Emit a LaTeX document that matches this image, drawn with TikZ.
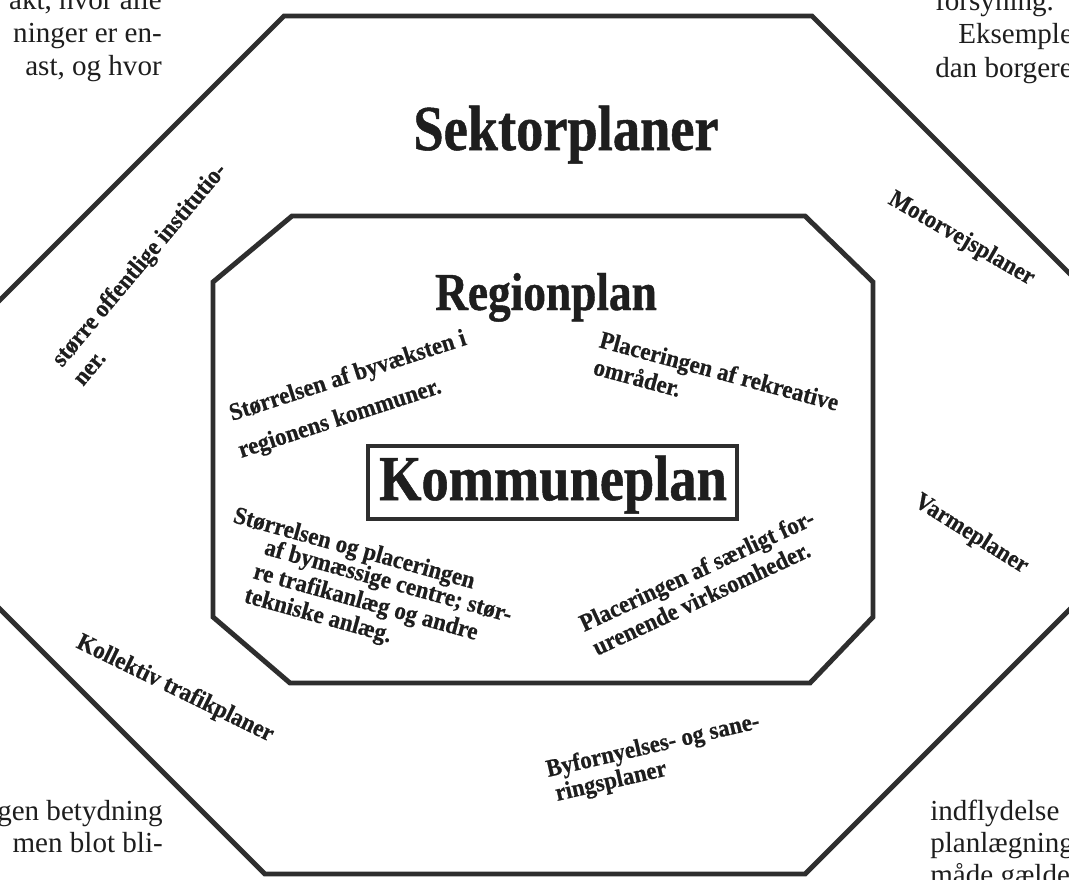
\documentclass[tikz,border=0pt]{standalone}
\usepackage{fontspec}
\setmainfont{Liberation Serif}
\newfontfamily\labfont[FakeStretch=0.93,FakeBold=0.5]{Liberation Serif}
\newfontfamily\ttlfont[FakeStretch=0.85,FakeBold=0.8]{Liberation Serif}
\definecolor{ink}{HTML}{2E2E2E}
\definecolor{txt}{HTML}{1E1E1E}
\begin{document}
\begin{tikzpicture}[x=0.75pt,y=-0.75pt,line join=miter]
\tikzset{
  frame/.style={draw=ink,line width=3.7pt},
  kbox/.style={draw=ink,line width=2.8pt},
  title/.style={text=txt,inner sep=0pt,anchor=base,font=\ttlfont\bfseries\fontsize{48}{48}\selectfont},
  lab/.style={text=txt,inner sep=0pt,anchor=base west,font=\labfont\bfseries\fontsize{18.5}{18.5}\selectfont},
  body/.style={text=txt,inner sep=0pt,font=\fontsize{21.8}{21.8}\selectfont}
}
\useasboundingbox (0,0) rectangle (1069,879);
\clip (0,0) rectangle (1069,879);
\fill[white] (0,0) rectangle (1069,879);
% outer octagon
\draw[frame] (284,16) -- (812,16) -- (1100,304) -- (1100,579) -- (805,874) -- (265,874) -- (-30,579) -- (-30,330) -- cycle;
% inner octagon
\draw[frame] (292,216) -- (805,216) -- (873,282) -- (873,617) -- (810,683) -- (290,683) -- (213,617) -- (213,282) -- cycle;
% Kommuneplan box
\draw[kbox] (368,446) rectangle (737,519);
% titles
\node[title] (sektor) at (566,150) {Sektorplaner};
\node[title,font=\ttlfont\bfseries\fontsize{40}{40}\selectfont] (region) at (546,310) {Regionplan};
\node[title] (kommune) at (553,500) {Kommuneplan};
% inner labels
\node[lab,rotate=18] (b1a) at (232,421) {Størrelsen af byvæksten i};
\node[lab,rotate=18] (b1b) at (241,458) {regionens kommuner.};
\node[lab,rotate=-15] (b2a) at (598,347) {Placeringen af rekreative};
\node[lab,rotate=-15] (b2b) at (592,374) {områder.};
\node[lab,rotate=-15.5] (b3a) at (232,522) {Størrelsen og placeringen};
\node[lab,rotate=-15.5] (b3b) at (263,554) {af bymæssige centre; stør-};
\node[lab,rotate=-15.5] (b3c) at (252,578) {re trafikanlæg og andre};
\node[lab,rotate=-15.5] (b3d) at (243,602) {tekniske anlæg.};
\node[lab,rotate=25] (b4a) at (584,632) {Placeringen af særligt for-};
\node[lab,rotate=25] (b4b) at (597,656) {urenende virksomheder.};
% outer labels
\node[lab,rotate=50] (o1a) at (62,368) {større offentlige institutio-};
\node[lab,rotate=50] (o1b) at (83,387) {ner.};
\node[lab,rotate=-30] (o2) at (887,203) {Motorvejsplaner};
\node[lab,rotate=-32] (o3) at (913,505) {Varmeplaner};
\node[lab,rotate=-26] (o4) at (75,647) {Kollektiv trafikplaner};
\node[lab,rotate=13] (o5a) at (548,777) {Byfornyelses- og sane-};
\node[lab,rotate=13] (o5b) at (557,801) {ringsplaner};
% surrounding page text
\node[body,anchor=base east] (tl1) at (162,9) {akt, hvor alle};
\node[body,anchor=base east] (tl2) at (162,42) {ninger er en-};
\node[body,anchor=base east] (tl3) at (162,75) {ast, og hvor};
\node[body,anchor=base west] (tr1) at (935,10) {forsyning.};
\node[body,anchor=base west] (tr2) at (958,43) {Eksempler};
\node[body,anchor=base west] (tr3) at (935,77) {dan borgere};
\node[body,anchor=base east] (bl1) at (163,820) {ingen betydning};
\node[body,anchor=base east] (bl2) at (163,852) {men blot bli-};
\node[body,anchor=base west] (br1) at (930,820) {indflydelse};
\node[body,anchor=base west] (br2) at (930,852) {planlægning};
\node[body,anchor=base west] (br3) at (930,884) {måde gælder};
\end{tikzpicture}
\end{document}
